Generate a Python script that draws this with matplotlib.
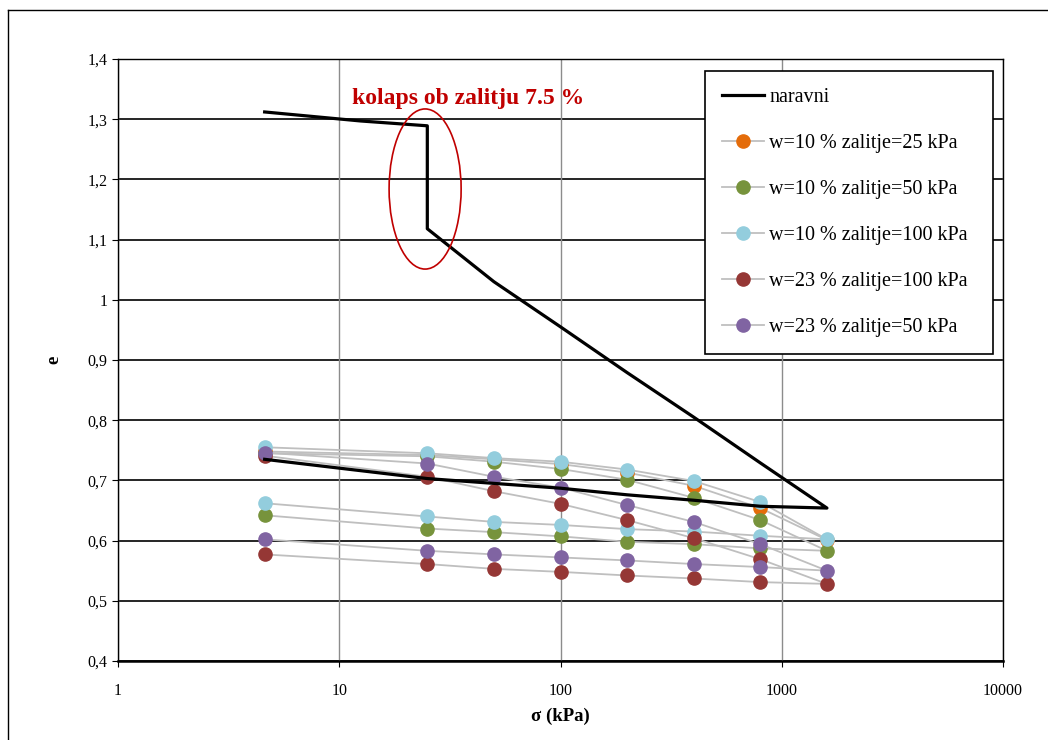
import matplotlib
matplotlib.use("Agg")
import matplotlib.pyplot as plt
from matplotlib.patches import Ellipse
from matplotlib.lines import Line2D
from matplotlib.ticker import FixedLocator, FuncFormatter

plt.rcParams['font.family'] = ['Liberation Serif', 'DejaVu Serif']

# Natural sample (naravni): loading, collapse on wetting at 25 kPa, then unloading
nar_sigma = [4.6, 12.5, 25, 25, 50, 100, 200, 400, 800, 1600,
             800, 400, 200, 100, 50, 25, 4.6]
nar_e = [1.312, 1.297, 1.289, 1.118, 1.03, 0.955, 0.879, 0.805, 0.729, 0.654,
         0.657, 0.667, 0.676, 0.687, 0.695, 0.703, 0.735]

# compacted samples: loading 4.6 -> 1600 then unloading back to 4.6
sigma_cycle = [4.6, 25, 50, 100, 200, 400, 800, 1600, 800, 400, 200, 100, 50, 25, 4.6]
sigma_load = [4.6, 25, 50, 100, 200, 400, 800, 1600]

e_w10_z25 = [0.748, 0.742, 0.735, 0.727, 0.713, 0.691, 0.654, 0.601]
e_w10_z50 = [0.745, 0.740, 0.731, 0.719, 0.701, 0.671, 0.634, 0.583,
             0.587, 0.594, 0.598, 0.607, 0.614, 0.620, 0.642]
e_w10_z100 = [0.755, 0.745, 0.737, 0.731, 0.718, 0.699, 0.664, 0.602,
              0.608, 0.615, 0.619, 0.626, 0.631, 0.640, 0.662]
e_w23_z100 = [0.741, 0.706, 0.682, 0.661, 0.634, 0.604, 0.569, 0.528,
              0.531, 0.537, 0.542, 0.548, 0.553, 0.561, 0.577]
e_w23_z50 = [0.746, 0.728, 0.706, 0.688, 0.659, 0.631, 0.594, 0.550,
             0.556, 0.561, 0.567, 0.572, 0.577, 0.583, 0.602]

series = [
    ("w=10 % zalitje=25 kPa", sigma_load, e_w10_z25, "#E46C0A"),
    ("w=10 % zalitje=50 kPa", sigma_cycle, e_w10_z50, "#77933C"),
    ("w=10 % zalitje=100 kPa", sigma_cycle, e_w10_z100, "#93CDDD"),
    ("w=23 % zalitje=100 kPa", sigma_cycle, e_w23_z100, "#953735"),
    ("w=23 % zalitje=50 kPa", sigma_cycle, e_w23_z50, "#8064A2"),
]

y_ticks = [0.4, 0.5, 0.6, 0.7, 0.8, 0.9, 1.0, 1.1, 1.2, 1.3, 1.4]
x_ticks = [1, 10, 100, 1000, 10000]

fig = plt.figure(figsize=(10.48, 7.40), dpi=100)
ax = fig.add_axes([0.1126, 0.1068, 0.8445, 0.8135])

ax.plot(nar_sigma, nar_e, color="black", lw=2.3, label="naravni", zorder=5)
for label, xs, ys, col in series:
    ax.plot(xs, ys, color="#BFBFBF", lw=1.3, marker="o", markersize=9.5,
            markerfacecolor=col, markeredgecolor=col, label=label, zorder=3)

ax.set_xscale("log")
ax.set_xlim(1, 10000)
ax.set_ylim(0.4, 1.4)
ax.xaxis.set_major_locator(FixedLocator(x_ticks))
ax.xaxis.set_minor_locator(FixedLocator([]))
ax.xaxis.set_major_formatter(FuncFormatter(lambda v, p: "%d" % v))
ax.yaxis.set_major_locator(FixedLocator(y_ticks))
ax.yaxis.set_major_formatter(FuncFormatter(lambda v, p: ("%g" % round(v, 1)).replace(".", ",")))

for yv in y_ticks:
    ax.axhline(yv, color="black", lw=1.2, zorder=1)
for xv in x_ticks:
    ax.axvline(xv, color="#8C8C8C", lw=1.0, zorder=1)

for s in ax.spines.values():
    s.set_color("black")
    s.set_linewidth(1.0)
ax.spines["bottom"].set_linewidth(1.8)
ax.tick_params(axis="both", labelsize=11.5, direction="out", length=4, color="black")
ax.tick_params(axis="x", pad=12)

ax.set_xlabel("σ (kPa)", fontsize=13.5, fontweight="bold", labelpad=6)
ax.set_ylabel("e", fontsize=13.5, fontweight="bold", labelpad=18)

# collapse annotation
ax.add_patch(Ellipse((0.347, 0.784), 0.0814, 0.266, transform=ax.transAxes,
                     fill=False, edgecolor="#C00000", lw=1.2, zorder=6))
ax.text(0.264, 0.935, "kolaps ob zalitju 7.5 %", transform=ax.transAxes,
        color="#C00000", fontsize=17, fontweight="bold", va="center", ha="left")

leg = ax.legend(loc="upper left", bbox_to_anchor=(0.663, 0.55, 0.3254, 0.43),
                mode="expand", fontsize=14.5, labelspacing=1.33, handlelength=2.1,
                handletextpad=0.25, borderpad=0.85, fancybox=False, framealpha=1,
                edgecolor="black", borderaxespad=0)
leg.get_frame().set_linewidth(1.2)

# outer chart frame
fig.add_artist(Line2D([0.0076, 0.0076], [0.0, 0.9865], color="black", lw=1.0))
fig.add_artist(Line2D([0.0076, 1.0], [0.9865, 0.9865], color="black", lw=1.0))

fig.savefig("out.png", dpi=100)
